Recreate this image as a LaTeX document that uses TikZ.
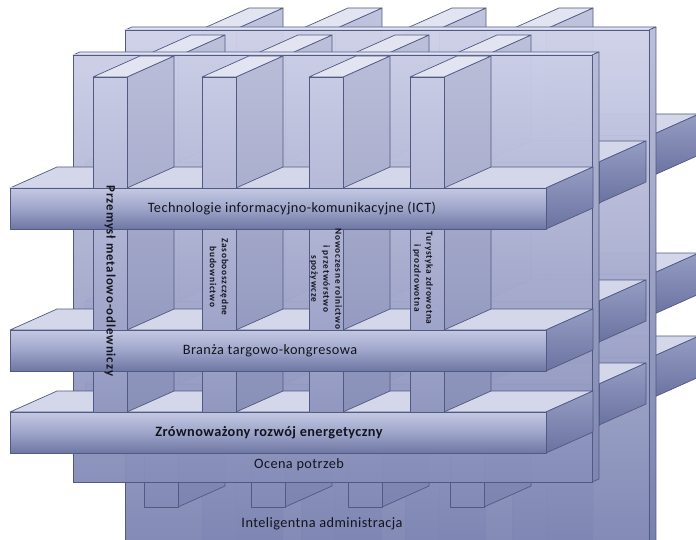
\documentclass[tikz,border=0pt]{standalone}
\usepackage{fontspec}
\setmainfont{Carlito}
\newfontfamily\barfont{Carlito}[LetterSpace=3]
\newfontfamily\colfont{Carlito}[LetterSpace=8]
\newfontfamily\bigcolfont{Carlito}[LetterSpace=7]

\definecolor{edge}{RGB}{80,90,130}
\definecolor{gtop}{RGB}{212,214,236}
\definecolor{gbot}{RGB}{124,132,178}
\definecolor{pillartop}{RGB}{226,228,242}
\definecolor{slabtop}{RGB}{212,215,234}
\definecolor{slabA}{RGB}{196,200,226}
\definecolor{slabB}{RGB}{158,165,202}
\definecolor{slabC}{RGB}{110,119,163}
\definecolor{slabsideA}{RGB}{150,157,196}
\definecolor{slabsideB}{RGB}{106,115,160}
\definecolor{ink}{RGB}{20,20,30}

% colour of the overall vertical gradient at height #2 (0 = top, 540 = bottom)
\newcommand\tint[2]{%
  \pgfmathtruncatemacro\tintpct{max(0,min(100,(#2)/5.4))}%
  \colorlet{#1}{gbot!\tintpct!gtop}}

% one section of a column: front x #1, from height #2 down to #3
\newcommand\pillarpiece[3]{%
  \tint{pa}{#2}\tint{pb}{#3}%
  \path[faceline, top color=pa!88!edge, bottom color=pb!88!edge]
    ({#1+34},#2) -- ({#1+81},{#2-21}) -- ({#1+81},{#3-21}) -- ({#1+34},#3) -- cycle;
  \path[faceline, top color=pa, bottom color=pb] (#1,#2) rectangle ({#1+34},#3);
}
% top face of a column
\newcommand\pillarcap[2]{%
  \path[faceline, fill=pillartop]
    (#1,#2) -- ({#1+47},{#2-21}) -- ({#1+81},{#2-21}) -- ({#1+34},#2) -- cycle;
}
% horizontal beam: left x, right x, top y
\newcommand\slab[3]{%
  \path[faceline, fill=slabtop]
    (#1,#3) -- ({#1+47},{#3-21}) -- ({#2+47},{#3-21}) -- (#2,#3) -- cycle;
  \path[faceline, top color=slabsideA, bottom color=slabsideB]
    (#2,#3) -- ({#2+47},{#3-21}) -- ({#2+47},{#3+20}) -- (#2,{#3+41}) -- cycle;
  \path[faceline, top color=slabA, bottom color=slabC, middle color=slabB]
    (#1,#3) rectangle (#2,{#3+41});
}
% one depth layer of columns and beams
% #1 column x list, #2 column top, #3 column bottom, #4/#5 beam left/right, #6-#8 beam tops
\newcommand\stratum[8]{%
  \foreach \colx in {#1} {\pillarpiece{\colx}{#8+41}{#3}}
  \slab{#4}{#5}{#8}
  \foreach \colx in {#1} {\pillarpiece{\colx}{#7+41}{#8}}
  \slab{#4}{#5}{#7}
  \foreach \colx in {#1} {\pillarpiece{\colx}{#6+41}{#7}}
  \slab{#4}{#5}{#6}
  \foreach \colx in {#1} {\pillarpiece{\colx}{#2}{#6}\pillarcap{\colx}{#2}}
}
% thin vertical board: left, top, right, bottom
\newcommand\board[4]{%
  \tint{ba}{#2}\tint{bb}{#4}%
  \path[faceline, fill=pillartop]
    (#1,#2) -- ({#1+7},{#2-3}) -- ({#3+7},{#2-3}) -- (#3,#2) -- cycle;
  \path[faceline, top color=ba!85!edge, bottom color=bb!85!edge]
    (#3,#2) -- ({#3+7},{#2-3}) -- ({#3+7},{#4-3}) -- (#3,#4) -- cycle;
  \path[faceline, top color=ba, bottom color=bb, fill opacity=0.96]
    (#1,#2) rectangle (#3,#4);
}

\begin{document}
\begin{tikzpicture}[x=1pt, y=-1pt, line join=round,
  faceline/.style={draw=edge, line width=0.7pt},
  barlabel/.style={font=\barfont\fontsize{14.3}{16}\selectfont, text=ink, inner sep=0pt},
  collabel/.style={font=\colfont\bfseries\fontsize{9.3}{12}\selectfont, text=ink,
    rotate=-90, align=center, inner sep=0pt},
  bigcollabel/.style={font=\bigcolfont\bfseries\fontsize{12.8}{14}\selectfont, text=ink,
    rotate=-90, inner sep=0pt}]
\useasboundingbox (0,0) rectangle (696,540);
\clip (0,0) rectangle (696,540);
\fill[white] (0,0) rectangle (696,540);

% rear layer
\stratum{202,301,405,512}{29}{560}{140}{652}{135}{274}{357}
\board{125}{30}{649}{560}
% middle layer
\stratum{144,251,348,450}{56}{507}{85}{599}{162}{301}{384}
\board{73}{55}{592}{482}
% front layer
\stratum{93,202,309,410}{77}{453}{10}{546}{188}{330}{412}

% beam labels
\node[barlabel] (ict) at (292,208) {Technologie informacyjno-komunikacyjne (ICT)};
\node[barlabel] (targi) at (270,351) {Branża targowo-kongresowa};
\node[barlabel, font=\barfont\bfseries\fontsize{14.3}{16}\selectfont] (energia) at (269,433) {Zrównoważony rozwój energetyczny};
\node[barlabel] (ocena) at (299,465) {Ocena potrzeb};
\node[barlabel] (admin) at (322,524) {Inteligentna administracja};

% column labels
\node[bigcollabel] (metal) at (110,281) {Przemysł metalowo-odlewniczy};
\node[collabel] (bud) at (219,277) {Zasobooszczędne\\budownictwo};
\node[collabel] (roln) at (326,279) {Nowoczesne rolnictwo\\i przetwórstwo\\spożywcze};
\node[collabel] (tur) at (423,278) {Turystyka zdrowotna\\i prozdrowotna};
\end{tikzpicture}
\end{document}
